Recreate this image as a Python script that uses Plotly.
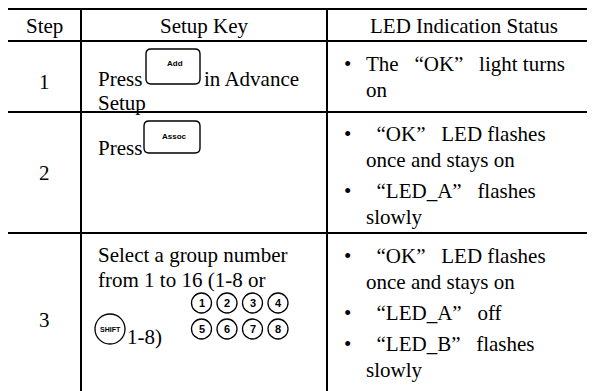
import plotly.graph_objects as go

# ---------------- data (table content) ----------------
headers = ["Step", "Setup Key", "LED Indication Status"]
steps = ["1", "2", "3"]
setup_lines = [
    ["Press", "in Advance", "Setup"],
    ["Press"],
    ["Select a group number", "from 1 to 16 (1-8 or", "1-8)"],
]
key_caps = ["Add", "Assoc", "SHIFT"]
number_keys = ["1", "2", "3", "4", "5", "6", "7", "8"]
led_status = [
    [["The “OK” light turns", "on"]],
    [["“OK” LED flashes", "once and stays on"], ["“LED_A” flashes", "slowly"]],
    [["“OK” LED flashes", "once and stays on"], ["“LED_A” off"], ["“LED_B” flashes", "slowly"]],
]

# ---------------- layout constants ----------------
W, H = 595, 391
OFF = 8  # page body margin: data coordinates == page pixels
col_x = [7, 81, 327, 620]
row_y = [9, 41, 112, 233, 430]
SERIF = "Liberation Serif, Times New Roman, serif"
SANS = "Liberation Sans, Arial, sans-serif"
FS = 21
LINE_H = 26
BULLET_GAP = 5
NB = "\u00a0"


def pad_quotes(s):
    return s.replace("“", NB + NB + "“").replace("”", "”" + NB + NB)


fig = go.Figure()
shapes = []
ann = []


def text(x, y, s, size=FS, anchor="left", family=SERIF, weight="normal"):
    ann.append(dict(x=x, y=y, xref="x", yref="y", text=s, showarrow=False,
                    xanchor=anchor, yanchor="middle",
                    font=dict(family=family, size=size, color="black", weight=weight)))


def line(x0, y0, x1, y1, w=2):
    shapes.append(dict(type="line", x0=x0, y0=y0, x1=x1, y1=y1, xref="x", yref="y",
                       line=dict(color="black", width=w)))


def rrect(x0, y0, x1, y1, r=5, w=1.4):
    p = (f"M{x0+r},{y0} L{x1-r},{y0} Q{x1},{y0} {x1},{y0+r} L{x1},{y1-r} "
         f"Q{x1},{y1} {x1-r},{y1} L{x0+r},{y1} Q{x0},{y1} {x0},{y1-r} "
         f"L{x0},{y0+r} Q{x0},{y0} {x0+r},{y0} Z")
    shapes.append(dict(type="path", path=p, xref="x", yref="y",
                       line=dict(color="black", width=w)))


def circle(cx, cy, r, w=1.3):
    shapes.append(dict(type="circle", x0=cx - r, x1=cx + r, y0=cy - r, y1=cy + r,
                       xref="x", yref="y", line=dict(color="black", width=w)))


# grid lines
for y in row_y[:-1]:
    line(col_x[0] - 1, y, W + OFF, y)
for x in col_x[:-1]:
    line(x, row_y[0] - 1, x, H + OFF + 5)

# header
for i, h in enumerate(headers):
    cx = (col_x[i] + min(col_x[i + 1], 600)) / 2
    text(cx, 26, h, anchor="center")

# step numbers
step_y = [82, 172.5, 320]
step_cx = (col_x[0] + col_x[1]) / 2
for s, y in zip(steps, step_y):
    text(step_cx, y, s, anchor="center")

# setup key column
tx = 96
# row 1
text(tx, 79, setup_lines[0][0])
rrect(146, 49, 200, 84)
text(175, 63, key_caps[0], size=8, anchor="center", family=SANS, weight="bold")
text(202, 79, setup_lines[0][1])
text(tx, 102.5, setup_lines[0][2])
# row 2
text(tx, 148, setup_lines[1][0])
rrect(144, 121, 200, 153)
text(174, 136, key_caps[1], size=8, anchor="center", family=SANS, weight="bold")
# row 3
text(tx, 255, setup_lines[2][0])
text(tx, 280, setup_lines[2][1])
circle(110, 329, 15)
text(110, 329, key_caps[2], size=7, anchor="center", family=SANS, weight="bold")
text(125, 337, setup_lines[2][2])
nk_x0, nk_dx, nk_r = 201.5, 25.5, 10
nk_rows = [303, 329]
for i, k in enumerate(number_keys):
    cx = nk_x0 + (i % 4) * nk_dx
    cy = nk_rows[i // 4]
    circle(cx, cy, nk_r)
    text(cx, cy, k, size=11, anchor="center", family=SANS, weight="bold")

# LED column
bullet_x, led_x = 347, 364
led_start = [64, 134, 256]
for r, items in enumerate(led_status):
    y = led_start[r]
    for item in items:
        text(bullet_x, y, "•", anchor="center")
        for li, s in enumerate(item):
            text(led_x, y, pad_quotes(s) if li == 0 else s)
            y += LINE_H
        y += BULLET_GAP

fig.update_layout(
    width=W, height=H, margin=dict(l=0, r=0, t=0, b=0),
    paper_bgcolor="white", plot_bgcolor="white",
    xaxis=dict(range=[OFF, W + OFF], visible=False, fixedrange=True),
    yaxis=dict(range=[H + OFF, OFF], visible=False, fixedrange=True),
    shapes=shapes, annotations=ann, showlegend=False,
)
fig.write_html("out.html")
